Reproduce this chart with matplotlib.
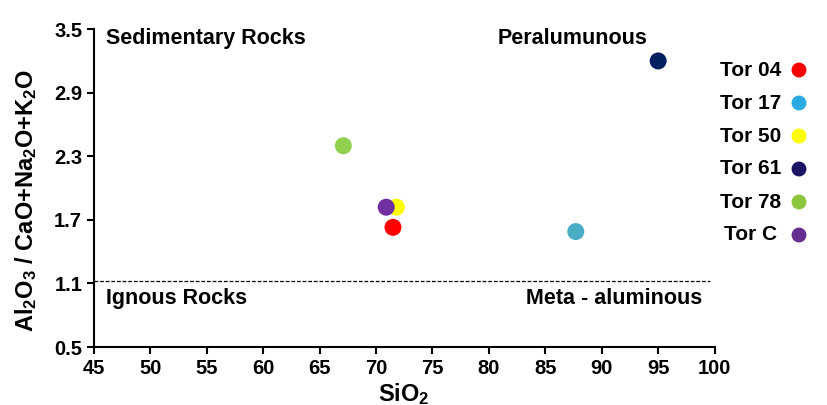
import matplotlib
matplotlib.use("Agg")
import matplotlib.pyplot as plt

plt.rcParams['font.family'] = ['Liberation Sans', 'DejaVu Sans']
plt.rcParams['font.weight'] = 'bold'
plt.rcParams['mathtext.fontset'] = 'custom'
plt.rcParams['mathtext.bf'] = 'Liberation Sans:bold'
plt.rcParams['mathtext.rm'] = 'Liberation Sans:bold'
plt.rcParams['mathtext.default'] = 'bf'

samples = ['Tor 04', 'Tor 17', 'Tor 50', 'Tor 61', 'Tor 78', 'Tor C']
sio2 = [71.5, 87.7, 71.8, 95.0, 67.1, 70.9]
ratio = [1.63, 1.59, 1.82, 3.20, 2.40, 1.82]
point_colors = ['#FF0000', '#4BACC6', '#FFFF00', '#002060', '#92D050', '#7030A0']
legend_colors = ['#FF0000', '#29ABE2', '#FFFF00', '#1B1464', '#8CC63F', '#662D91']
boundary = 1.12
xticks = [45, 50, 55, 60, 65, 70, 75, 80, 85, 90, 95, 100]
yticks = [0.5, 1.1, 1.7, 2.3, 2.9, 3.5]

fig = plt.figure(figsize=(8.28, 4.05), dpi=100)
ax = fig.add_axes([0.1135, 0.143, 0.7495, 0.785])

for x, y, c in zip(sio2, ratio, point_colors):
    ax.scatter(x, y, s=150, color=c, edgecolors='none', zorder=3)

ax.plot([45, 99.6], [boundary, boundary], ls=(0, (3, 1.5)), color='black', lw=0.9)

ax.set_xlim(45, 100)
ax.set_ylim(0.5, 3.5)
ax.set_xticks(xticks)
ax.set_yticks(yticks)
ax.set_yticklabels([f"{v:.1f}" for v in yticks])
ax.tick_params(labelsize=14.5, width=1.5, length=5, direction='out')
for lab in ax.get_xticklabels() + ax.get_yticklabels():
    lab.set_fontweight('bold')
for s in ['top', 'right']:
    ax.spines[s].set_visible(False)
for s in ['left', 'bottom']:
    ax.spines[s].set_linewidth(1.5)

ax.set_xlabel('SiO$_2$', fontsize=17, fontweight='bold', labelpad=2)
ax.set_ylabel('Al$_2$O$_3$ / CaO+Na$_2$O+K$_2$O', fontsize=17, fontweight='bold')
ax.yaxis.set_label_coords(-0.088, 0.462)

ax.text(46.05, 3.41, 'Sedimentary Rocks', fontsize=15.5, fontweight='bold', ha='left', va='center')
ax.text(94.1, 3.41, 'Peralumunous', fontsize=15.5, fontweight='bold', ha='right', va='center')
ax.text(46.05, 0.96, 'Ignous Rocks', fontsize=15.5, fontweight='bold', ha='left', va='center')
ax.text(98.9, 0.96, 'Meta - aluminous', fontsize=15.5, fontweight='bold', ha='right', va='center')

# legend drawn in its own small axes
lax = fig.add_axes([720 / 828, 1 - 251.5 / 405, 100 / 828, 198 / 405])
lax.set_xlim(0, 1)
lax.set_ylim(len(samples) - 0.5, -0.5)
lax.axis('off')
for i, (name, c) in enumerate(zip(samples, legend_colors)):
    lax.text(0.31, i, name, fontsize=15, fontweight='bold', ha='center', va='center')
    lax.scatter(0.79, i, s=115, color=c, edgecolors='none', clip_on=False)

fig.savefig('out.png', dpi=100)
